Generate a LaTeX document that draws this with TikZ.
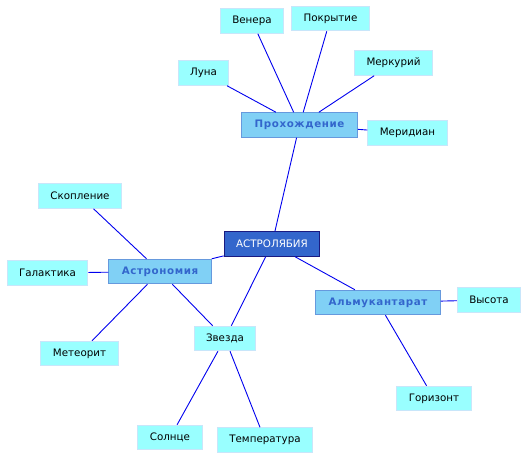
\documentclass[tikz,border=0pt]{standalone}
\usepackage{fontspec}
\setmainfont{DejaVu Sans}
\newfontfamily\hubfont[LetterSpace=6]{DejaVu Sans Bold}
\definecolor{linecol}{HTML}{0000EE}
\definecolor{rootfill}{HTML}{3366CC}
\definecolor{rootdraw}{HTML}{1A1A80}
\definecolor{hubfill}{HTML}{80D0F5}
\definecolor{hubdraw}{HTML}{6699DD}
\definecolor{hubtext}{HTML}{3366CC}
\definecolor{leaffill}{HTML}{99FFFF}
\definecolor{leafdraw}{HTML}{C8E6FA}
\tikzset{
  base/.style={rectangle, inner xsep=12pt, inner ysep=0pt, minimum height=24.5pt, line width=1pt, font=\fontsize{10.3}{12}\selectfont},
  rootbox/.style={base, fill=rootfill, draw=rootdraw, text=white},
  hubbox/.style={base, fill=hubfill, draw=hubdraw, text=hubtext, inner xsep=13pt, font=\fontsize{10.3}{12}\selectfont\hubfont},
  leafbox/.style={base, fill=leaffill, draw=leafdraw, text=black},
  link/.style={draw=linecol, line width=0.9pt}
}
\begin{document}
\begin{tikzpicture}[x=1pt,y=-1pt]
\useasboundingbox (0,0) rectangle (529,459);
\node[rootbox] (root) at (272,244) {АСТРОЛЯБИЯ};
\node[hubbox] (pro) at (299.5,125) {Прохождение};
\node[hubbox] (ast) at (160,271.5) {Астрономия};
\node[hubbox] (alm) at (378,302.5) {Альмукантарат};
\node[leafbox] (zve) at (225,338.5) {Звезда};
\node[leafbox] (ven) at (252,21) {Венера};
\node[leafbox] (pok) at (330.5,18.5) {Покрытие};
\node[leafbox] (lun) at (203.5,73) {Луна};
\node[leafbox] (mer) at (393.5,63) {Меркурий};
\node[leafbox] (mrd) at (407.5,133) {Меридиан};
\node[leafbox] (sko) at (80,196) {Скопление};
\node[leafbox] (gal) at (47.5,273) {Галактика};
\node[leafbox] (met) at (79.5,353.5) {Метеорит};
\node[leafbox] (vys) at (489,300) {Высота};
\node[leafbox] (gor) at (434,398.5) {Горизонт};
\node[leafbox] (sol) at (170,437.5) {Солнце};
\node[leafbox] (tem) at (265,440) {Температура};
\draw[link] (root) -- (pro);
\draw[link] (root) -- (ast);
\draw[link] (root) -- (alm);
\draw[link] (root) -- (zve);
\draw[link] (pro) -- (lun);
\draw[link] (pro) -- (ven);
\draw[link] (pro) -- (pok);
\draw[link] (pro) -- (mer);
\draw[link] (pro) -- (mrd);
\draw[link] (ast) -- (sko);
\draw[link] (ast) -- (gal);
\draw[link] (ast) -- (met);
\draw[link] (ast) -- (zve);
\draw[link] (zve) -- (sol);
\draw[link] (zve) -- (tem);
\draw[link] (alm) -- (vys);
\draw[link] (alm) -- (gor);
\end{tikzpicture}
\end{document}
